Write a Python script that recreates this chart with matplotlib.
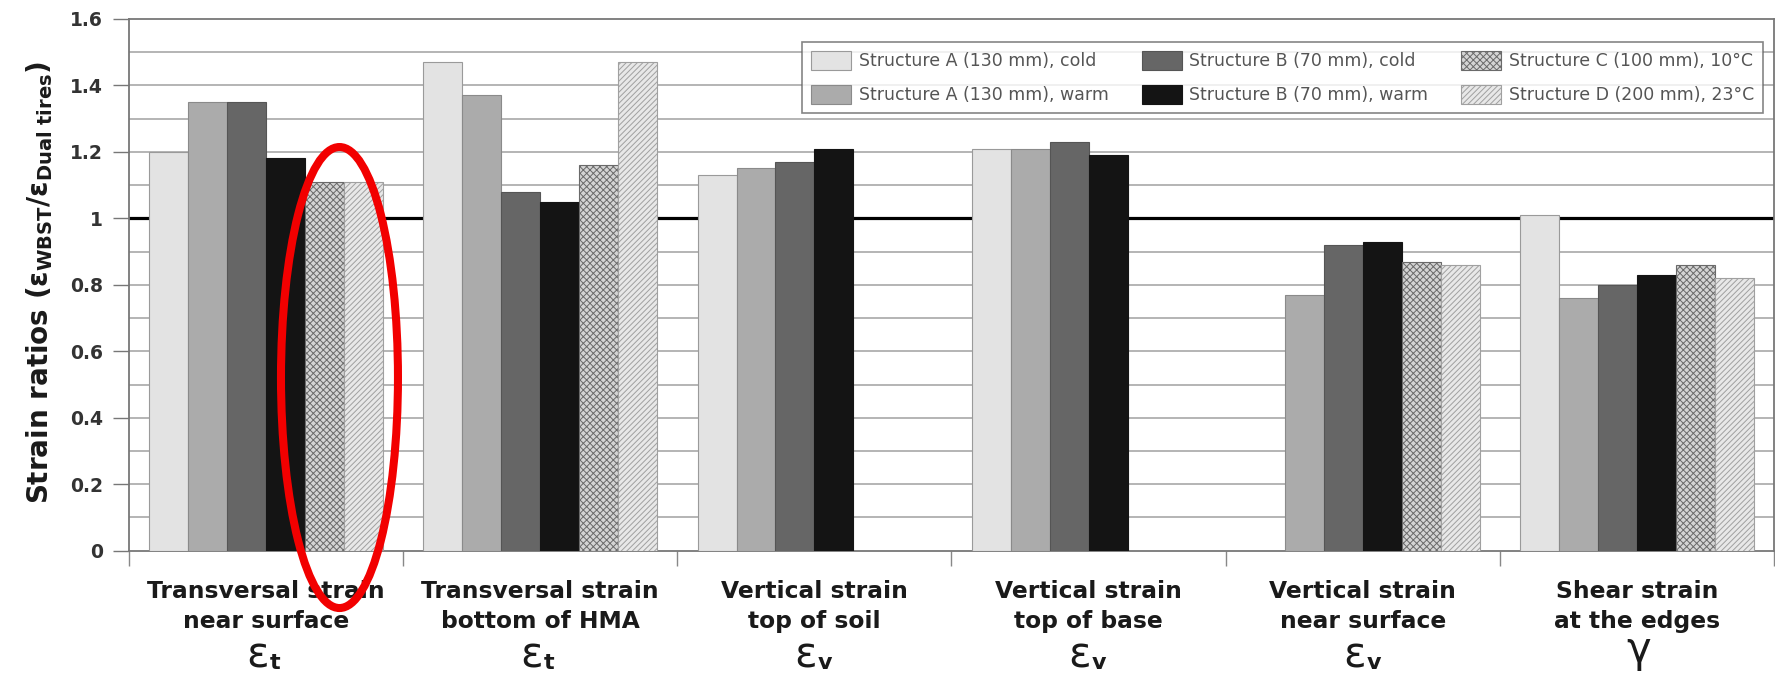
import numpy as np
import matplotlib
matplotlib.use("Agg")
import matplotlib.pyplot as plt
from matplotlib.patches import Ellipse

# categories / labels
categories = ["Transversal strain\nnear surface", "Transversal strain\nbottom of HMA",
              "Vertical strain\ntop of soil", "Vertical strain\ntop of base",
              "Vertical strain\nnear surface", "Shear strain\nat the edges"]
symbols = ["ε", "ε", "ε", "ε", "ε", "γ"]
symbol_subs = ["t", "t", "v", "v", "v", ""]

series_names = ["Structure A (130 mm), cold", "Structure A (130 mm), warm",
                "Structure B (70 mm), cold", "Structure B (70 mm), warm",
                "Structure C (100 mm), 10°C", "Structure D (200 mm), 23°C"]

nan = np.nan
a_cold = [1.20, 1.47, 1.13, 1.21, nan, 1.01]
a_warm = [1.35, 1.37, 1.15, 1.21, 0.77, 0.76]
b_cold = [1.35, 1.08, 1.17, 1.23, 0.92, 0.80]
b_warm = [1.18, 1.05, 1.21, 1.19, 0.93, 0.83]
c_10 = [1.11, 1.16, nan, nan, 0.87, 0.86]
d_23 = [1.11, 1.47, nan, nan, 0.86, 0.82]

y_ticks = [0, 0.2, 0.4, 0.6, 0.8, 1, 1.2, 1.4, 1.6]
y_tick_labels = ["0", "0.2", "0.4", "0.6", "0.8", "1", "1.2", "1.4", "1.6"]

plt.rcParams['hatch.linewidth'] = 0.7

fig = plt.figure(figsize=(17.75, 6.76), dpi=100)
ax = fig.add_axes([129 / 1775, 1 - 550.7 / 676, 1645 / 1775, 531.8 / 676])

x = np.arange(len(categories))
w = 0.142
styles = [
    dict(color="#e3e3e3", edgecolor="#9a9a9a"),
    dict(color="#ababab", edgecolor="#8a8a8a"),
    dict(color="#666666", edgecolor="#555555"),
    dict(color="#141414", edgecolor="#141414"),
    dict(color="#d4d4d4", edgecolor="#6a6a6a", hatch="xxxxx"),
    dict(color="#e8e8e8", edgecolor="#a0a0a0", hatch="//////"),
]
all_series = [a_cold, a_warm, b_cold, b_warm, c_10, d_23]
for i, (vals, name, st) in enumerate(zip(all_series, series_names, styles)):
    ax.bar(x + (i - 2.5) * w, vals, width=w, label=name, linewidth=0.8,
           zorder=3, **st)

# gridlines and reference line
for yv in np.arange(0.1, 1.55, 0.1):
    ax.axhline(yv, color="#a8a8a8", lw=1.2, zorder=0.5)
ax.axhline(1.0, color="black", lw=2.3, zorder=1)

ax.set_xlim(-0.5, 5.5)
ax.set_ylim(0, 1.6)
ax.set_yticks(y_ticks)
ax.set_yticklabels(y_tick_labels, fontsize=13.5, fontweight="bold", color="#333333")
ax.set_xticks(np.arange(-0.5, 5.6, 1))
ax.set_xticklabels([])
ax.tick_params(axis="y", direction="out", length=11.5, width=1, color="#777777", pad=7)
ax.tick_params(axis="x", direction="out", length=11, width=1, color="#888888")
for s in ax.spines.values():
    s.set_color("#777777")
    s.set_linewidth(1.3)

# category labels
for i, lab in enumerate(categories):
    l1, l2 = lab.split("\n")
    for txt, off in [(l1, 34), (l2, 55.5)]:
        ax.annotate(txt, xy=(i, 0), xycoords=("data", "axes fraction"),
                    xytext=(0, -off), textcoords="offset points",
                    ha="center", va="baseline", fontsize=16.8, fontweight="bold",
                    color="#1a1a1a")
    if symbol_subs[i]:
        ax.annotate(symbols[i], xy=(i, 0), xycoords=("data", "axes fraction"),
                    xytext=(2, -84), textcoords="offset points",
                    ha="right", va="baseline", fontsize=30, color="#1a1a1a")
        ax.annotate(symbol_subs[i], xy=(i, 0), xycoords=("data", "axes fraction"),
                    xytext=(2.5, -85.5), textcoords="offset points",
                    ha="left", va="baseline", fontsize=16, fontweight="bold",
                    color="#1a1a1a")
    else:
        ax.annotate(symbols[i], xy=(i, 0), xycoords=("data", "axes fraction"),
                    xytext=(1, -80), textcoords="offset points",
                    ha="center", va="baseline", fontsize=30, color="#1a1a1a")

fig.text(40 / 1775, 1 - 282 / 676,
         r"Strain ratios ($\mathregular{\varepsilon_{WBST}/\varepsilon_{Dual\ tires}}$)",
         rotation=90, ha="center", va="center", fontsize=20, fontweight="bold",
         color="#1a1a1a")

leg = ax.legend(ncol=3, loc="upper right", bbox_to_anchor=(0.9933, 0.9566),
                borderaxespad=0, fontsize=12.5, frameon=True, fancybox=False,
                handlelength=2.3, handleheight=1.35, handletextpad=0.45,
                columnspacing=1.9, labelspacing=0.85, borderpad=0.5)
leg.get_frame().set_edgecolor("#666666")
leg.get_frame().set_linewidth(1.2)
for t in leg.get_texts():
    t.set_color("#555555")
leg.set_zorder(5)

# red highlight ellipse
ax.add_patch(Ellipse((0.2677, 0.521), 0.4267, 1.387, fill=False,
                     edgecolor="#f20000", lw=5.8, clip_on=False, zorder=10))

fig.savefig("out.png", dpi=100)
